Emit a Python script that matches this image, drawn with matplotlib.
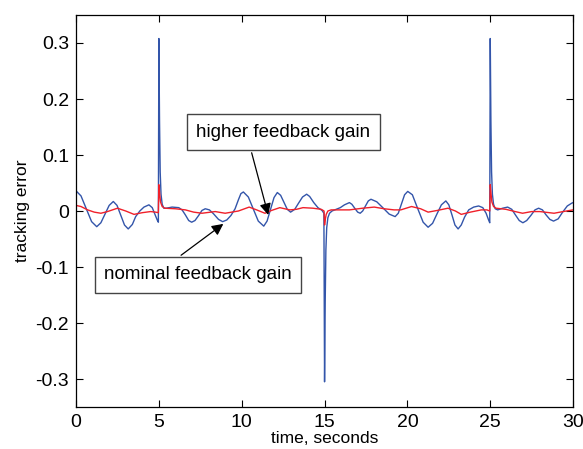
import matplotlib
matplotlib.use("Agg")
import matplotlib.pyplot as plt

plt.rcParams["font.family"] = ["Liberation Sans", "DejaVu Sans"]

# blue: nominal feedback gain
t_nominal = [
    0.0, 0.3, 0.62, 0.94, 1.25, 1.5, 1.75, 2.0, 2.25, 2.475, 2.7, 2.925, 3.15,
    3.4, 3.6, 3.85, 4.1, 4.4, 4.6, 4.75, 4.9, 4.97,
    5.0, 5.04, 5.08, 5.13, 5.2, 5.3, 5.45, 5.8, 6.2, 6.4, 6.6, 6.8, 6.98,
    7.18, 7.4, 7.6, 7.8, 8.05, 8.3, 8.6, 8.85, 9.1, 9.35, 9.6, 9.8, 9.95,
    10.1, 10.4, 10.7, 11.0, 11.33, 11.53, 11.74, 11.95, 12.15, 12.35, 12.55,
    12.75, 12.95, 13.2, 13.43, 13.67, 13.92, 14.1, 14.35, 14.6, 14.85, 14.96,
    15.0, 15.04, 15.08, 15.13, 15.2, 15.3, 15.45, 15.7, 15.95, 16.2, 16.5,
    16.65, 16.82, 17.0, 17.15, 17.3, 17.47, 17.64, 17.8, 18.15, 18.53, 18.9,
    19.26, 19.45, 19.64, 19.83, 20.02, 20.3, 20.6, 20.95, 21.25, 21.52, 21.78,
    22.05, 22.32, 22.5, 22.69, 22.87, 23.06, 23.25, 23.45, 23.7, 24.0, 24.3,
    24.55, 24.75, 24.9, 24.97,
    25.0, 25.04, 25.08, 25.13, 25.2, 25.3, 25.45, 25.75, 26.05, 26.3, 26.52,
    26.75, 26.97, 27.2, 27.45, 27.7, 27.92, 28.15, 28.37, 28.6, 28.82, 29.1,
    29.37, 29.65, 29.92, 30.0,
]
e_nominal = [
    0.036, 0.027, 0.004, -0.019, -0.028, -0.021, -0.0055, 0.010, 0.017, 0.010,
    -0.0075, -0.025, -0.032,
    -0.024, -0.010, 0.0, 0.007, 0.011, 0.006, -0.005, -0.016, -0.020,
    0.308, 0.16, 0.07, 0.03, 0.012, 0.005, 0.005, 0.007, 0.006, 0.002, -0.007,
    -0.017, -0.020,
    -0.017, -0.008, 0.001, 0.004, 0.002, -0.005, -0.015, -0.019, -0.016,
    -0.008, 0.004, 0.020, 0.031,
    0.034, 0.025, 0.0035, -0.018, -0.027, -0.018, 0.003, 0.024, 0.033, 0.028,
    0.0155, 0.003, -0.002, 0.003, 0.014, 0.025, 0.030, 0.026, 0.015, 0.006,
    0.001, -0.004,
    -0.305, -0.16, -0.07, -0.03, -0.012, -0.004, 0.0, 0.003, 0.006, 0.011, 0.015,
    0.012, 0.005, -0.002, -0.004, 0.0, 0.009, 0.018, 0.021, 0.0165, 0.0055,
    -0.0055,
    -0.010, -0.004, 0.0125, 0.029, 0.035, 0.029, 0.006, -0.020, -0.029, -0.022,
    -0.0055, 0.011, 0.018, 0.011, -0.007, -0.025, -0.032, -0.025, -0.011, 0.002,
    0.007, 0.009,
    0.006, -0.004, -0.016, -0.021,
    0.308, 0.16, 0.07, 0.03, 0.012, 0.004, 0.002, 0.005, 0.007, 0.003, -0.007,
    -0.017, -0.021, -0.017, -0.008, 0.002, 0.005, 0.002, -0.007, -0.015, -0.018,
    -0.014, -0.002, 0.009, 0.014, 0.015,
]

# red: higher feedback gain
t_higher = [
    0.0, 0.3, 0.7, 1.1, 1.5, 1.9, 2.5, 3.0, 3.5, 4.0, 4.5, 4.8, 4.97,
    5.0, 5.05, 5.1, 5.2, 5.35, 6.0, 6.6, 7.1, 7.6, 8.4, 9.0, 9.8, 10.45, 10.9,
    11.4, 11.8, 12.3, 12.9, 13.3, 13.7, 14.3, 14.8, 14.97,
    15.0, 15.05, 15.1, 15.2, 15.4, 16.5, 17.3, 18.0, 18.6, 19.2, 19.6, 20.25,
    20.8, 21.25, 21.8, 22.45, 22.9, 23.25, 23.8, 24.46, 24.8, 24.97,
    25.0, 25.05, 25.1, 25.2, 25.35, 25.95, 26.5, 26.95, 27.5, 28.0, 28.85,
    29.4, 30.0,
]
e_higher = [
    0.010, 0.008, 0.002, -0.002, -0.004, -0.001, 0.005, 0.0, -0.006, -0.003,
    -0.001, -0.002, -0.003,
    0.047, 0.030, 0.016, 0.008, 0.005, 0.004, 0.002, -0.002, -0.004, -0.001,
    -0.004, 0.0, 0.007, 0.002, -0.004, 0.001, 0.006, 0.002, 0.003, 0.006, 0.005,
    0.003, 0.0,
    -0.025, -0.014, -0.006, 0.0, 0.002, 0.002, 0.005, 0.007, 0.004, 0.002,
    0.002, 0.008, 0.004, -0.002, 0.001, 0.005, 0.0, -0.006, -0.002, 0.002,
    0.002, 0.0,
    0.047, 0.030, 0.016, 0.008, 0.005, 0.003, -0.001, -0.004, -0.001, -0.001,
    -0.004, -0.001, 0.002,
]

x_ticks = [0, 5, 10, 15, 20, 25, 30]
y_ticks = [-0.3, -0.2, -0.1, 0, 0.1, 0.2, 0.3]
y_tick_labels = ["-0.3", "-0.2", "-0.1", "0", "0.1", "0.2", "0.3"]

fig = plt.figure(figsize=(5.83, 4.49), dpi=100)
ax = fig.add_axes([0.1304, 0.0935, 0.8526, 0.8731])

ax.plot(t_nominal, e_nominal, color="#3355aa", lw=1.0)
ax.plot(t_higher, e_higher, color="#f0202a", lw=1.0)

ax.set_xlim(0, 30)
ax.set_ylim(-0.35, 0.35)
ax.set_xticks(x_ticks)
ax.set_yticks(y_ticks)
ax.set_yticklabels(y_tick_labels)
ax.tick_params(direction="in", top=True, right=True, length=5, width=0.8,
               labelsize=14, pad=5)
for s in ax.spines.values():
    s.set_linewidth(0.9)

ax.set_xlabel("time, seconds", fontsize=12.5, labelpad=0)
ax.set_ylabel("tracking error", fontsize=12.5, labelpad=4)

box = dict(boxstyle="square,pad=0.5", fc="white", ec="#444444", lw=1.0)
arrow = dict(arrowstyle="-|>", color="black", lw=0.9, mutation_scale=17,
             shrinkA=0, shrinkB=0)

# higher feedback gain callout
ax.annotate("", xy=(11.6, -0.007), xytext=(10.6, 0.104), arrowprops=arrow)
ax.text(12.5, 0.1405, "higher feedback gain", fontsize=13.5, ha="center",
        va="center", bbox=box)

# nominal feedback gain callout
ax.annotate("", xy=(8.89, -0.023), xytext=(6.34, -0.079), arrowprops=arrow)
ax.text(7.36, -0.114, "nominal feedback gain", fontsize=13.5, ha="center",
        va="center", bbox=box)

fig.savefig("out.png", dpi=100)
